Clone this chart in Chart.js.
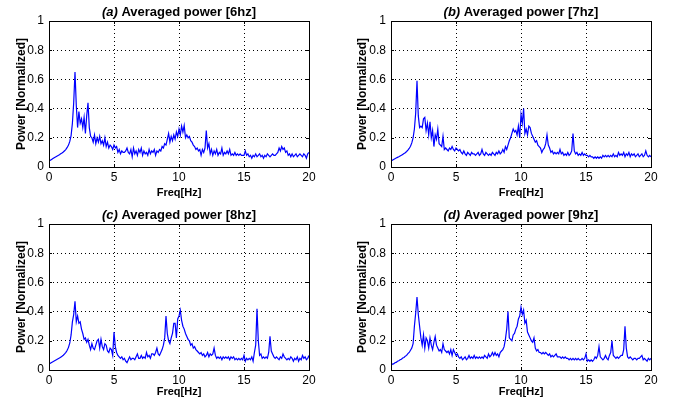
<!DOCTYPE html>
<html>
<head>
<meta charset="utf-8">
<script src="https://cdn.jsdelivr.net/npm/chart.js@4.4.0/dist/chart.umd.min.js"></script>
<style>
  body { margin: 0; background: #fff; }
  #page { position: relative; width: 678px; height: 402px; overflow: hidden; }
  canvas { position: absolute; }
</style>
</head>
<body>
<div id="page">
  <canvas id="chart-a" width="339" height="201" style="left:0;top:0"></canvas>
  <canvas id="chart-b" width="339" height="201" style="left:339px;top:0"></canvas>
  <canvas id="chart-c" width="339" height="202" style="left:0;top:200px"></canvas>
  <canvas id="chart-d" width="339" height="202" style="left:339px;top:200px"></canvas>
</div>
<script>
const freqStep = 0.1;

const powerA = [
  0.040,0.046,0.052,0.058,0.064,0.069,0.074,0.079,0.084,0.090,
  0.096,0.103,0.111,0.121,0.134,0.150,0.175,0.215,0.300,0.440,
  0.650,0.420,0.270,0.380,0.300,0.330,0.270,0.340,0.230,0.350,
  0.440,0.270,0.210,0.200,0.170,0.220,0.160,0.200,0.170,0.210,
  0.160,0.180,0.150,0.200,0.140,0.170,0.130,0.150,0.140,0.120,
  0.150,0.130,0.140,0.100,0.120,0.090,0.110,0.100,0.100,0.110,
  0.130,0.100,0.090,0.120,0.070,0.130,0.090,0.110,0.080,0.120,
  0.100,0.130,0.080,0.110,0.090,0.100,0.080,0.120,0.090,0.110,
  0.100,0.120,0.080,0.110,0.100,0.120,0.110,0.140,0.130,0.160,
  0.150,0.190,0.230,0.170,0.210,0.180,0.220,0.190,0.240,0.210,
  0.260,0.220,0.280,0.240,0.285,0.200,0.220,0.200,0.210,0.180,
  0.170,0.150,0.140,0.120,0.130,0.110,0.120,0.080,0.120,0.100,
  0.130,0.250,0.130,0.160,0.090,0.120,0.080,0.110,0.090,0.120,
  0.080,0.100,0.090,0.130,0.080,0.100,0.090,0.110,0.090,0.120,
  0.080,0.090,0.080,0.100,0.080,0.090,0.080,0.090,0.080,0.080,
  0.080,0.110,0.080,0.090,0.070,0.080,0.060,0.080,0.070,0.090,
  0.070,0.080,0.090,0.070,0.080,0.060,0.080,0.070,0.090,0.080,
  0.070,0.080,0.090,0.080,0.080,0.090,0.100,0.130,0.110,0.140,
  0.120,0.130,0.100,0.110,0.080,0.090,0.070,0.090,0.070,0.080,
  0.090,0.070,0.080,0.090,0.080,0.070,0.090,0.080,0.060,0.090,
  0.100
];

const powerB = [
  0.040,0.046,0.051,0.056,0.061,0.066,0.070,0.075,0.080,0.086,
  0.092,0.098,0.106,0.115,0.127,0.142,0.165,0.200,0.260,0.370,
  0.590,0.350,0.270,0.280,0.270,0.330,0.340,0.250,0.300,0.220,
  0.310,0.200,0.250,0.140,0.220,0.190,0.260,0.160,0.150,0.140,
  0.210,0.120,0.130,0.120,0.110,0.130,0.120,0.140,0.120,0.110,
  0.130,0.120,0.110,0.120,0.100,0.090,0.110,0.090,0.080,0.100,
  0.090,0.080,0.100,0.090,0.090,0.080,0.090,0.100,0.080,0.090,
  0.120,0.090,0.080,0.100,0.090,0.080,0.090,0.080,0.100,0.090,
  0.080,0.100,0.090,0.110,0.090,0.100,0.120,0.100,0.140,0.120,
  0.150,0.180,0.200,0.230,0.260,0.240,0.250,0.220,0.280,0.200,
  0.360,0.300,0.400,0.230,0.260,0.220,0.280,0.270,0.230,0.210,
  0.190,0.170,0.180,0.150,0.140,0.130,0.100,0.120,0.130,0.160,
  0.220,0.150,0.130,0.100,0.110,0.090,0.100,0.090,0.100,0.090,
  0.120,0.090,0.100,0.080,0.090,0.080,0.100,0.080,0.090,0.110,
  0.230,0.110,0.090,0.100,0.080,0.090,0.080,0.100,0.080,0.090,
  0.080,0.080,0.070,0.080,0.070,0.070,0.060,0.070,0.060,0.070,
  0.060,0.070,0.060,0.080,0.070,0.080,0.070,0.080,0.070,0.080,
  0.070,0.090,0.070,0.080,0.070,0.100,0.080,0.090,0.080,0.100,
  0.070,0.090,0.080,0.100,0.070,0.090,0.080,0.090,0.070,0.080,
  0.090,0.070,0.080,0.090,0.070,0.080,0.110,0.080,0.070,0.080,
  0.070
];

const powerC = [
  0.040,0.046,0.052,0.057,0.062,0.067,0.072,0.077,0.082,0.088,
  0.094,0.101,0.110,0.121,0.135,0.155,0.185,0.240,0.330,0.380,
  0.470,0.330,0.370,0.320,0.330,0.280,0.250,0.210,0.220,0.190,
  0.210,0.170,0.140,0.180,0.150,0.140,0.170,0.200,0.210,0.150,
  0.210,0.160,0.140,0.180,0.170,0.130,0.120,0.150,0.140,0.100,
  0.260,0.160,0.120,0.100,0.090,0.080,0.090,0.070,0.080,0.060,
  0.050,0.070,0.090,0.070,0.080,0.080,0.070,0.090,0.110,0.080,
  0.080,0.100,0.080,0.090,0.080,0.120,0.090,0.100,0.080,0.110,
  0.110,0.100,0.120,0.150,0.110,0.100,0.120,0.140,0.170,0.220,
  0.370,0.250,0.200,0.180,0.220,0.250,0.320,0.320,0.220,0.350,
  0.370,0.410,0.340,0.300,0.280,0.250,0.230,0.210,0.200,0.170,
  0.180,0.150,0.160,0.140,0.130,0.120,0.110,0.120,0.100,0.110,
  0.090,0.100,0.120,0.090,0.110,0.100,0.110,0.150,0.100,0.080,
  0.090,0.080,0.090,0.070,0.090,0.080,0.090,0.080,0.090,0.070,
  0.090,0.080,0.090,0.070,0.080,0.070,0.080,0.070,0.080,0.070,
  0.100,0.060,0.080,0.070,0.080,0.070,0.090,0.060,0.120,0.170,
  0.420,0.200,0.100,0.110,0.080,0.090,0.080,0.090,0.080,0.120,
  0.230,0.130,0.110,0.090,0.080,0.090,0.080,0.070,0.090,0.080,
  0.110,0.090,0.080,0.070,0.080,0.070,0.090,0.080,0.060,0.080,
  0.070,0.090,0.060,0.080,0.070,0.100,0.080,0.090,0.070,0.080,
  0.100
];

const powerD = [
  0.030,0.040,0.042,0.050,0.052,0.060,0.063,0.070,0.074,0.082,
  0.086,0.095,0.100,0.112,0.120,0.135,0.150,0.180,0.300,0.390,
  0.500,0.380,0.300,0.220,0.170,0.240,0.150,0.220,0.200,0.150,
  0.220,0.170,0.140,0.190,0.230,0.170,0.150,0.130,0.140,0.120,
  0.180,0.140,0.130,0.120,0.130,0.110,0.140,0.100,0.140,0.120,
  0.100,0.110,0.090,0.080,0.090,0.070,0.080,0.090,0.070,0.080,
  0.100,0.080,0.090,0.080,0.100,0.080,0.090,0.080,0.090,0.080,
  0.090,0.080,0.100,0.090,0.080,0.110,0.090,0.100,0.120,0.100,
  0.120,0.100,0.110,0.090,0.120,0.130,0.140,0.160,0.210,0.280,
  0.400,0.220,0.210,0.200,0.240,0.250,0.280,0.300,0.350,0.370,
  0.430,0.380,0.410,0.320,0.340,0.260,0.240,0.220,0.200,0.190,
  0.220,0.150,0.130,0.140,0.120,0.120,0.110,0.120,0.110,0.120,
  0.110,0.100,0.110,0.090,0.100,0.090,0.100,0.110,0.090,0.090,
  0.090,0.080,0.090,0.080,0.090,0.080,0.080,0.070,0.080,0.070,
  0.080,0.070,0.080,0.070,0.080,0.070,0.070,0.080,0.070,0.080,
  0.110,0.060,0.070,0.060,0.070,0.060,0.070,0.090,0.080,0.100,
  0.160,0.090,0.080,0.070,0.080,0.100,0.080,0.070,0.100,0.120,
  0.200,0.100,0.090,0.080,0.090,0.080,0.090,0.100,0.100,0.140,
  0.300,0.150,0.090,0.080,0.090,0.080,0.070,0.080,0.080,0.070,
  0.080,0.080,0.090,0.100,0.070,0.080,0.070,0.060,0.080,0.070,
  0.080
];

const panelTags = ['(a)', '(b)', '(c)', '(d)'];
const panelTitles = ['Averaged power [6hz]', 'Averaged power [7hz]', 'Averaged power [8hz]', 'Averaged power [9hz]'];
const xTicks = [0, 5, 10, 15, 20];
const yTicks = [0, 0.2, 0.4, 0.6, 0.8, 1];

Chart.defaults.font.family = '"Liberation Sans", Arial, sans-serif';
Chart.defaults.color = '#000';

// title with an italic tag in front, like the matlab figure
const panelTitle = {
  id: 'panelTitle',
  afterDraw(chart, args, opts) {
    const ctx = chart.ctx;
    const area = chart.chartArea;
    ctx.save();
    ctx.fillStyle = '#000';
    ctx.textBaseline = 'middle';
    ctx.textAlign = 'left';
    ctx.font = 'italic bold 13px "Liberation Sans", Arial, sans-serif';
    const tag = opts.tag + ' ';
    const w1 = ctx.measureText(tag).width;
    ctx.font = 'bold 13px "Liberation Sans", Arial, sans-serif';
    const w2 = ctx.measureText(opts.text).width;
    let x = (area.left + area.right) / 2 - (w1 + w2) / 2;
    ctx.font = 'italic bold 13px "Liberation Sans", Arial, sans-serif';
    ctx.fillText(tag, x, opts.y);
    ctx.font = 'bold 13px "Liberation Sans", Arial, sans-serif';
    ctx.fillText(opts.text, x + w1, opts.y);
    ctx.restore();
  }
};

// box round the plot and inward tick marks on all four sides
const axesBox = {
  id: 'axesBox',
  afterDraw(chart) {
    const ctx = chart.ctx;
    const a = chart.chartArea;
    const xs = chart.scales.x, ys = chart.scales.y;
    const tl = 3;
    ctx.save();
    ctx.strokeStyle = '#000';
    ctx.lineWidth = 1;
    ctx.beginPath();
    xTicks.forEach(v => {
      const px = Math.round(xs.getPixelForValue(v)) + 0.5;
      ctx.moveTo(px, a.bottom); ctx.lineTo(px, a.bottom - tl);
      ctx.moveTo(px, a.top); ctx.lineTo(px, a.top + tl);
    });
    yTicks.forEach(v => {
      const py = Math.round(ys.getPixelForValue(v)) + 0.5;
      ctx.moveTo(a.left, py); ctx.lineTo(a.left + tl, py);
      ctx.moveTo(a.right, py); ctx.lineTo(a.right - tl, py);
    });
    ctx.stroke();
    ctx.strokeRect(Math.round(a.left) + 0.5, Math.round(a.top) + 0.5,
                   Math.round(a.right - a.left), Math.round(a.bottom - a.top));
    ctx.restore();
  }
};

function makePanel(id, values, idx, lay) {
  const points = values.map((v, i) => ({ x: +(i * freqStep).toFixed(1), y: v }));
  return new Chart(document.getElementById(id), {
    type: 'line',
    data: {
      datasets: [{
        data: points,
        borderColor: '#0000ff',
        borderWidth: 1.2,
        pointRadius: 0,
        tension: 0,
        fill: false
      }]
    },
    options: {
      responsive: false,
      animation: false,
      layout: { padding: { top: lay.top, right: lay.right, left: 0, bottom: 0 } },
      plugins: {
        legend: { display: false },
        tooltip: { enabled: false },
        panelTitle: { tag: panelTags[idx], text: panelTitles[idx], y: lay.titleY }
      },
      scales: {
        x: {
          type: 'linear',
          min: 0, max: 20,
          afterBuildTicks: s => { s.ticks = xTicks.map(v => ({ value: v })); },
          afterFit: s => { s.height = lay.xHeight; },
          ticks: { font: { size: 12 }, padding: 3, maxRotation: 0 },
          grid: { color: '#000', drawTicks: false },
          border: { display: false, dash: [1, 3] },
          title: {
            display: true, text: 'Freq[Hz]',
            font: { size: 11, weight: 'bold' },
            padding: { top: 0, bottom: lay.xTitlePad }
          }
        },
        y: {
          min: 0, max: 1,
          afterBuildTicks: s => { s.ticks = yTicks.map(v => ({ value: v })); },
          afterFit: s => { s.width = lay.yWidth; },
          ticks: { font: { size: 12 }, padding: 5, callback: v => String(+v.toFixed(1)) },
          grid: { color: '#000', drawTicks: false },
          border: { display: false, dash: [1, 3] },
          title: {
            display: true, text: 'Power [Normalized]',
            font: { size: 12, weight: 'bold' },
            padding: { top: lay.yTitlePad, bottom: 0 }
          }
        }
      }
    },
    plugins: [panelTitle, axesBox]
  });
}

window.addEventListener('load', () => {
  makePanel('chart-a', powerA, 0, { top: 21, right: 30, xHeight: 34, yWidth: 49, titleY: 12, xTitlePad: 1.4, yTitlePad: 14.8 });
  makePanel('chart-b', powerB, 1, { top: 21, right: 27, xHeight: 34, yWidth: 52, titleY: 12, xTitlePad: 1.4, yTitlePad: 16.8 });
  makePanel('chart-c', powerC, 2, { top: 24, right: 30, xHeight: 32, yWidth: 49, titleY: 15, xTitlePad: 3.4, yTitlePad: 14.8 });
  makePanel('chart-d', powerD, 3, { top: 24, right: 27, xHeight: 32, yWidth: 52, titleY: 15, xTitlePad: 3.4, yTitlePad: 16.8 });
});
</script>
</body>
</html>
